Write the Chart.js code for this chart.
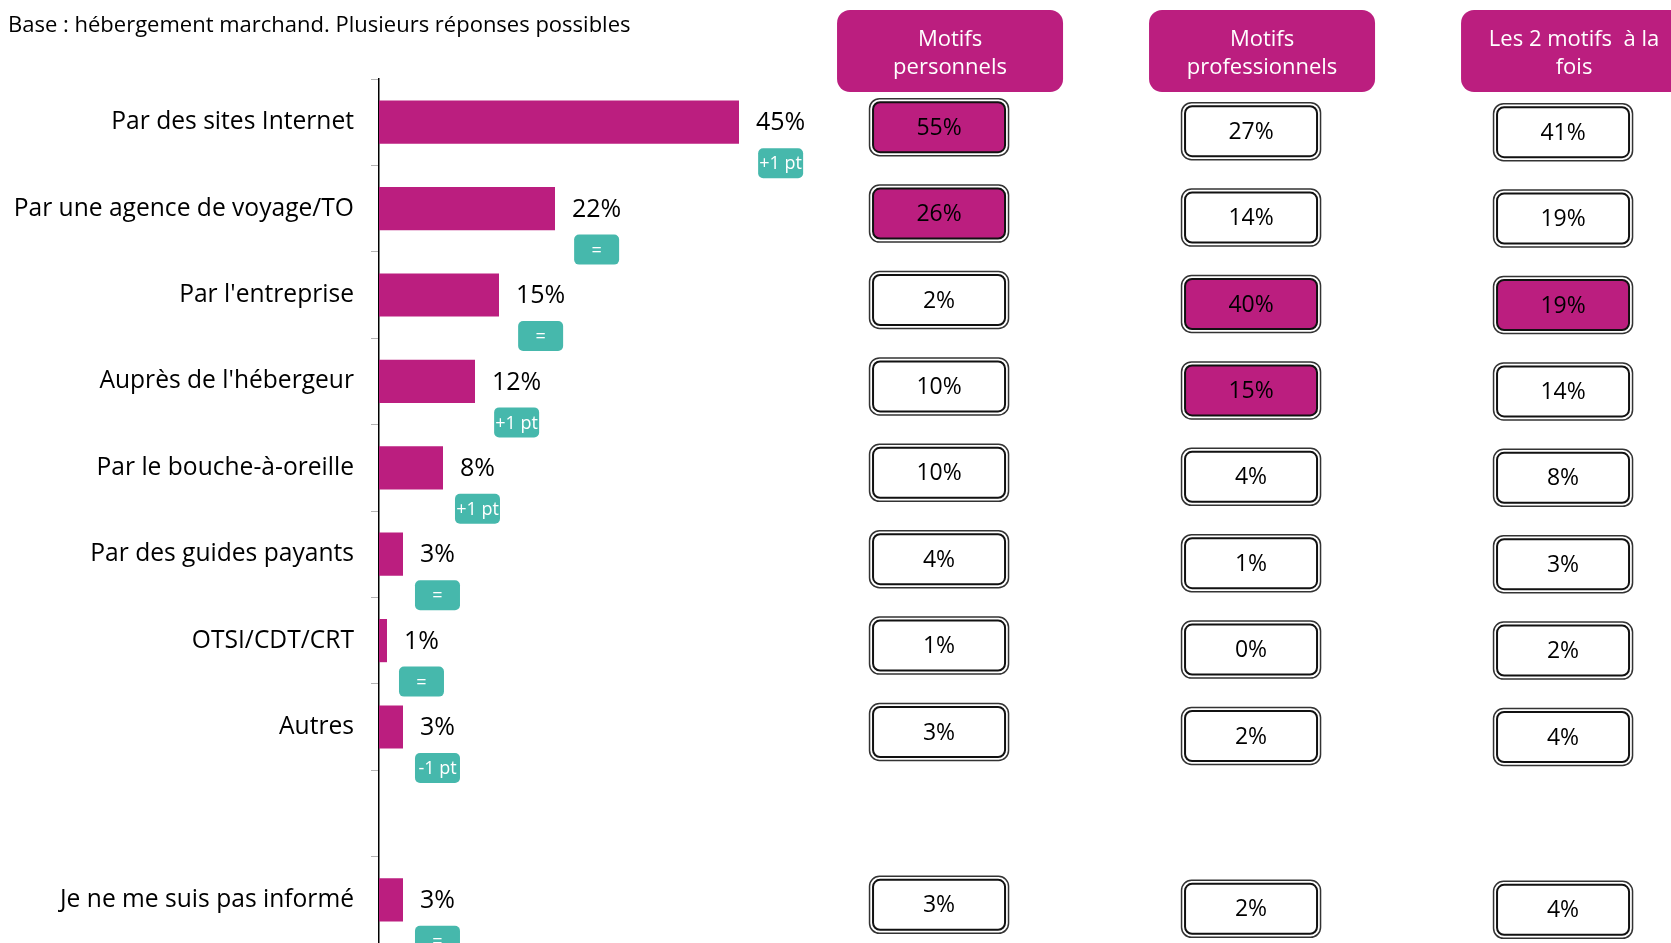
<!DOCTYPE html>
<html lang="fr">
<head>
    <meta charset="UTF-8">
    <title>Moyens de réservation</title>
    <script src="https://cdn.jsdelivr.net/npm/chart.js"></script>
    <style>
        body { margin: 0; background: #fff; }
        #wrap { position: relative; width: 1671px; height: 943px; }
        #title { position: absolute; left: 8px; top: 8px; font: 22px "Open Sans", sans-serif; color: #000; }
    </style>
</head>
<body>
<div id="wrap">
    <canvas id="reservChart" width="1671" height="943"></canvas>
    <div id="title">Base : hébergement marchand. Plusieurs réponses possibles</div>
</div>

<script>
    // categories (the empty one is the gap before the last row)
    const categories = ['Par des sites Internet', 'Par une agence de voyage/TO', "Par l'entreprise",
        "Auprès de l'hébergeur", 'Par le bouche-à-oreille', 'Par des guides payants',
        'OTSI/CDT/CRT', 'Autres', '', 'Je ne me suis pas informé'];

    // overall percentage and change vs previous wave
    const ensemble = [45, 22, 15, 12, 8, 3, 1, 3, null, 3];
    const evolution = ['+1 pt', '=', '=', '+1 pt', '+1 pt', '=', '=', '-1 pt', null, '='];

    // breakdown by travel motive
    const columnTitles = [['Motifs', 'personnels'], ['Motifs', 'professionnels'], ['Les 2 motifs  à la', 'fois']];
    const motifsPerso = [55, 26, 2, 10, 10, 4, 1, 3, null, 3];
    const motifsPro = [27, 14, 40, 15, 4, 1, 0, 2, null, 2];
    const deuxMotifs = [41, 19, 19, 14, 8, 3, 2, 4, null, 4];
    // rows flagged as significantly higher in each column
    const highlightPerso = [0, 1];
    const highlightPro = [2, 3];
    const highlightDeux = [2];

    const MAGENTA = '#BB1E7F';
    const TEAL = '#46B8AC';
    const FONT = '"Open Sans", sans-serif';

    function roundRect(ctx, x, y, w, h, r) {
        ctx.beginPath();
        ctx.roundRect(x, y, w, h, r);
    }

    // value labels + evolution badges next to the bars
    const barLabels = {
        id: 'barLabels',
        afterDatasetsDraw(chart) {
            const ctx = chart.ctx;
            const meta = chart.getDatasetMeta(0);
            ctx.save();
            meta.data.forEach((bar, i) => {
                if (ensemble[i] == null) return;
                const txt = ensemble[i] + '%';
                ctx.font = '25px ' + FONT;
                ctx.fillStyle = '#000';
                ctx.textAlign = 'left';
                ctx.textBaseline = 'middle';
                const lx = bar.x + 17;
                ctx.fillText(txt, lx, bar.y + 1);
                const tw = ctx.measureText(txt).width;
                if (evolution[i]) {
                    const bw = 45, bh = 30;
                    const bx = lx + tw / 2 - bw / 2;
                    const by = bar.y + 41 - bh / 2;
                    roundRect(ctx, bx, by, bw, bh, 5);
                    ctx.fillStyle = TEAL;
                    ctx.fill();
                    ctx.fillStyle = '#fff';
                    ctx.font = '18px ' + FONT;
                    ctx.textAlign = 'center';
                    ctx.fillText(evolution[i], bx + bw / 2, by + bh / 2 + 1);
                }
            });
            ctx.restore();
        }
    };

    // the three columns of boxes on the right
    const motifBoxes = {
        id: 'motifBoxes',
        afterDraw(chart) {
            const ctx = chart.ctx;
            const xc = chart.scales.xc;
            const y = chart.scales.y;
            const cols = [
                { vals: motifsPerso, hl: highlightPerso, dy: 5 },
                { vals: motifsPro, hl: highlightPro, dy: 9 },
                { vals: deuxMotifs, hl: highlightDeux, dy: 10 }
            ];
            ctx.save();
            cols.forEach((col, c) => {
                const cx = xc.getPixelForValue(c);
                // header
                const hw = 226, hh = 82, hx = cx + 11 - hw / 2, hy = 10;
                roundRect(ctx, hx, hy, hw, hh, 13);
                ctx.fillStyle = MAGENTA;
                ctx.fill();
                ctx.fillStyle = '#fff';
                ctx.font = '22px ' + FONT;
                ctx.textAlign = 'center';
                ctx.textBaseline = 'middle';
                columnTitles[c].forEach((line, k) => {
                    ctx.fillText(line, cx + 11, hy + 30 + k * 28);
                });
                // boxes
                col.vals.forEach((v, r) => {
                    if (v == null) return;
                    const cy = y.getPixelForValue(r) + col.dy;
                    const w = 139, h = 57;
                    const bx = cx - w / 2, by = cy - h / 2;
                    roundRect(ctx, bx, by, w, h, 10);
                    ctx.fillStyle = '#fff';
                    ctx.fill();
                    ctx.lineWidth = 1.5;
                    ctx.strokeStyle = '#333';
                    ctx.stroke();
                    roundRect(ctx, bx + 3.5, by + 3.5, w - 7, h - 7, 7);
                    ctx.fillStyle = col.hl.includes(r) ? MAGENTA : '#fff';
                    ctx.fill();
                    ctx.lineWidth = 2;
                    ctx.strokeStyle = '#111';
                    ctx.stroke();
                    ctx.fillStyle = '#000';
                    ctx.font = '23px ' + FONT;
                    ctx.fillText(v + '%', cx, cy + 1);
                });
            });
            ctx.restore();
        }
    };

    const ctx = document.getElementById('reservChart').getContext('2d');
    new Chart(ctx, {
        type: 'bar',
        data: {
            labels: categories,
            datasets: [{
                label: 'Ensemble',
                data: ensemble,
                backgroundColor: MAGENTA,
                categoryPercentage: 1,
                barPercentage: 0.5
            }]
        },
        options: {
            indexAxis: 'y',
            responsive: false,
            animation: false,
            layout: { padding: { top: 79, left: 0, right: 0, bottom: 0 } },
            plugins: { legend: { display: false }, tooltip: { enabled: false } },
            scales: {
                x: { type: 'linear', min: 0, max: 161.5, display: false },
                xc: { type: 'linear', axis: 'x', min: -1.795, max: 2.346, display: false },
                y: {
                    type: 'category',
                    afterFit(scale) {
                        scale.width = 379;
                        scale.paddingTop = 0;
                        scale.paddingBottom = 0;
                    },
                    grid: { drawOnChartArea: false, drawTicks: true, tickLength: 8, color: '#b4b4b4', offset: true },
                    border: { display: true, color: '#000', width: 1.5 },
                    ticks: { color: '#000', padding: 17, font: { family: FONT, size: 24.6 } }
                }
            }
        },
        plugins: [barLabels, motifBoxes]
    });
</script>
</body>
</html>
